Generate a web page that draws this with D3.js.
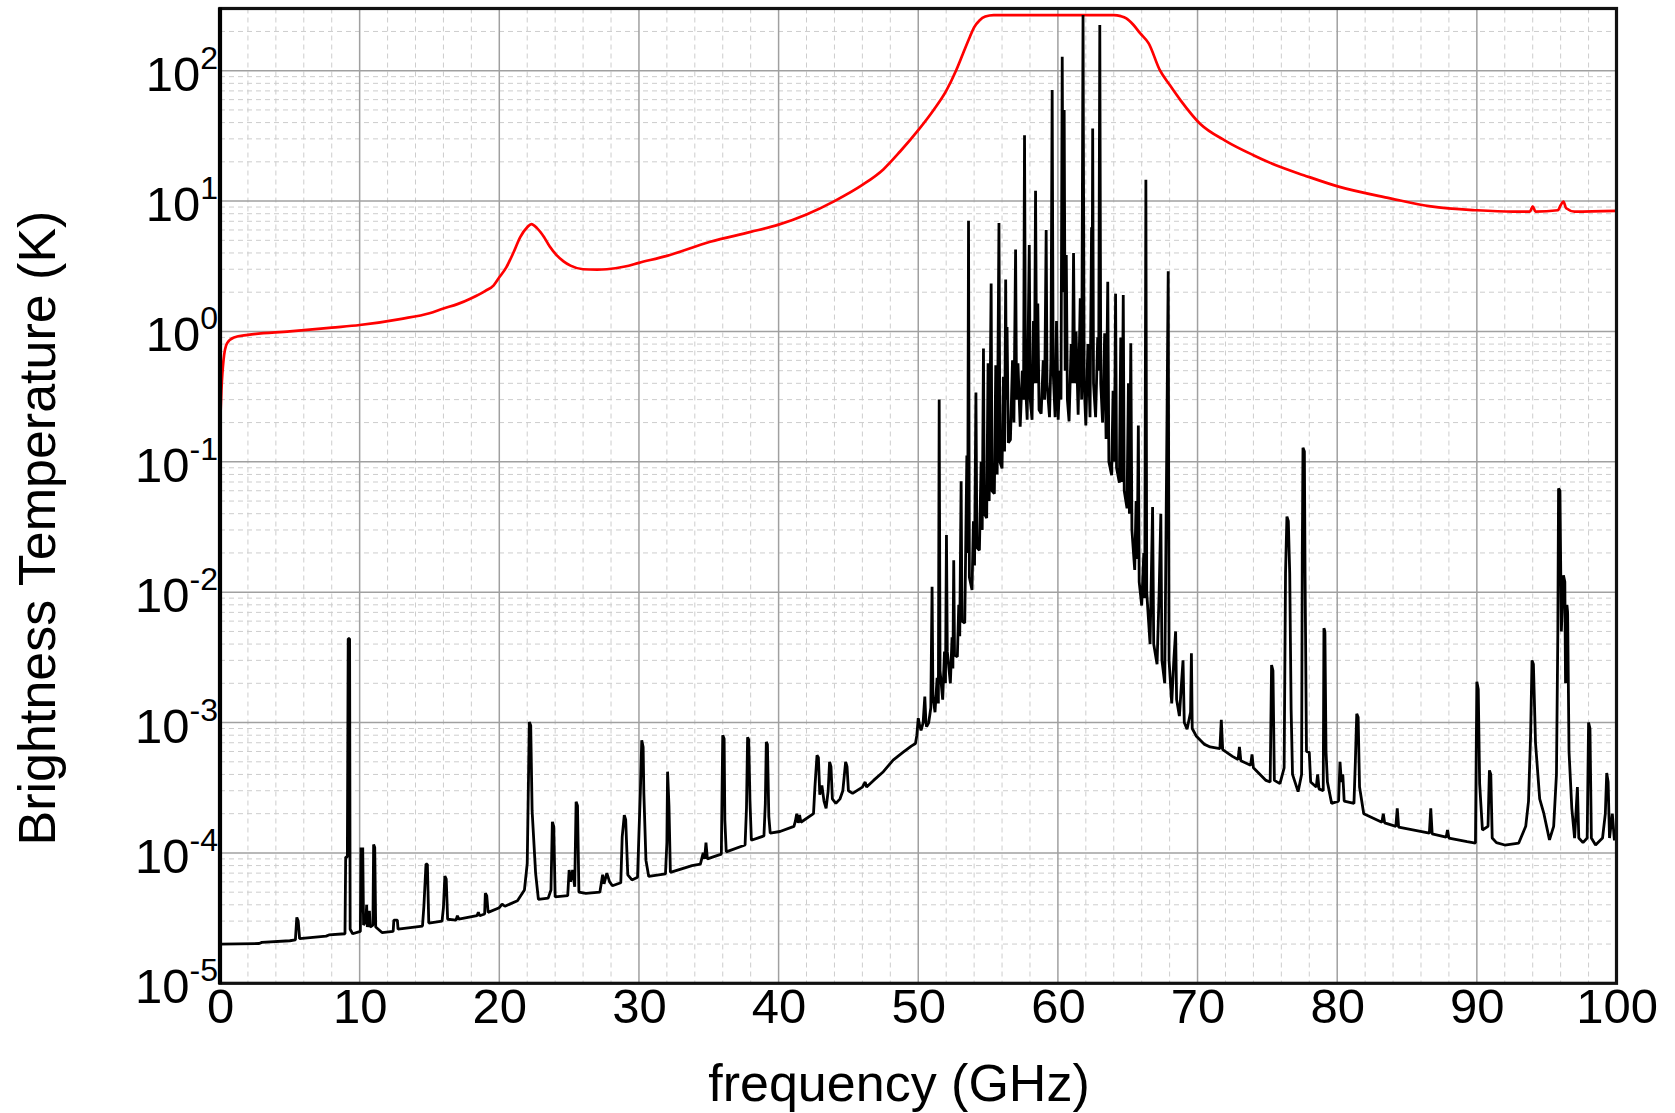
<!DOCTYPE html>
<html>
<head>
<meta charset="utf-8">
<script src="https://cdnjs.cloudflare.com/ajax/libs/d3/7.8.5/d3.min.js"></script>
<style>
body { margin: 0; background: #fff; }
svg { display: block; font-family: "Liberation Sans", Arial, sans-serif; }
</style>
</head>
<body>
<svg id="chart" width="1675" height="1113"></svg>
<script>

// tick values
var xTicks = [0, 10, 20, 30, 40, 50, 60, 70, 80, 90, 100];
var yExponents = [-5, -4, -3, -2, -1, 0, 1, 2];

// red curve: [frequency GHz, brightness temperature K]
var redSeries = [
    [0, 0.18], [0.1, 0.35], [0.25, 0.6], [0.5, 0.81], [1.0, 0.9], [2.0, 0.94], [5.0, 1.0],
    [8.0, 1.07], [10, 1.12], [13, 1.25], [15, 1.38], [16, 1.5], [17, 1.62], [18, 1.8],
    [19, 2.05], [19.6, 2.26], [20.0, 2.6], [20.5, 3.1], [21.0, 4.0], [21.5, 5.3], [22.0, 6.3],
    [22.3, 6.65], [22.7, 6.2], [23.2, 5.3], [23.6, 4.5], [24.1, 3.85], [24.6, 3.45], [25.1, 3.2],
    [26.0, 3.0], [27.0, 2.98], [27.7, 3.0], [29.0, 3.15], [30, 3.36], [32, 3.8], [35.1, 4.87],
    [38, 5.8], [40, 6.6], [42, 7.9], [44, 10], [46, 13.3], [47.5, 17.5], [48.7, 24], [50, 35],
    [51.1, 50], [52, 70], [52.7, 100], [53.2, 135], [53.7, 182], [54.0, 215], [54.4, 244],
    [54.8, 260], [55.4, 267], [64.0, 267], [64.5, 262], [64.9, 252], [65.4, 225], [65.9, 193],
    [66.5, 162], [67.3, 101], [68, 78], [68.8, 59], [70.2, 39], [72, 29], [74, 22.5],
    [75.9, 18.3], [77.6, 15.8], [80.1, 12.9], [83.8, 10.5], [86.7, 9.1], [90, 8.5], [92.6, 8.3],
    [93.8, 8.3], [94.0, 9.1], [94.2, 8.3], [95.8, 8.5], [96.0, 9.3], [96.2, 9.9], [96.4, 8.8],
    [97, 8.3], [100, 8.4]
];

// black spectrum, 0 - 50 GHz
var blackLow = [
    [0, 2.0e-5], [2.8, 2.02e-5], [3.0, 2.06e-5], [5.0, 2.12e-5], [5.4, 2.15e-5], [5.5, 3.2e-5],
    [5.6, 3.0e-5], [5.7, 2.2e-5], [7.6, 2.3e-5], [7.8, 2.35e-5], [8.95, 2.4e-5], [9.0, 9.3e-5],
    [9.12, 9.3e-5], [9.18, 4.4e-3], [9.28, 4.4e-3], [9.32, 2.6e-5], [9.5, 2.4e-5], [10.05, 2.5e-5],
    [10.1, 1.1e-4], [10.15, 3.5e-5], [10.22, 1.1e-4], [10.28, 2.8e-5], [10.45, 3.0e-5],
    [10.5, 4.0e-5], [10.55, 2.7e-5], [10.7, 3.6e-5], [10.75, 2.7e-5], [10.95, 2.8e-5],
    [11.0, 1.16e-4], [11.08, 1.1e-4], [11.15, 2.7e-5], [11.6, 2.45e-5], [12.4, 2.5e-5],
    [12.45, 3.05e-5], [12.7, 3.05e-5], [12.75, 2.6e-5], [14.5, 2.75e-5], [14.6, 3.9e-5],
    [14.75, 8.2e-5], [14.85, 8.2e-5], [14.95, 2.9e-5], [15.9, 3.0e-5], [16.0, 3.8e-5],
    [16.1, 6.65e-5], [16.2, 6.3e-5], [16.3, 3.1e-5], [16.9, 3.05e-5], [17.0, 3.3e-5],
    [17.1, 3.1e-5], [18.4, 3.3e-5], [18.5, 3.5e-5], [18.6, 3.3e-5], [18.95, 3.4e-5],
    [19.0, 4.9e-5], [19.1, 4.7e-5], [19.2, 3.5e-5], [20.0, 3.8e-5], [20.2, 4.05e-5],
    [20.4, 3.9e-5], [21.3, 4.3e-5], [21.8, 5.2e-5], [22.0, 8.3e-5], [22.15, 1.01e-3],
    [22.25, 9.5e-4], [22.35, 2.1e-4], [22.6, 7.0e-5], [22.8, 4.4e-5], [23.5, 4.5e-5],
    [23.7, 5.2e-5], [23.8, 1.73e-4], [23.9, 1.6e-4], [24.0, 4.6e-5], [24.9, 4.7e-5],
    [25.0, 7.4e-5], [25.1, 6.0e-5], [25.25, 7.4e-5], [25.4, 5.5e-5], [25.5, 2.47e-4],
    [25.6, 2.3e-4], [25.7, 5.0e-5], [26.2, 4.9e-5], [27.2, 5.0e-5], [27.4, 6.8e-5],
    [27.5, 5.8e-5], [27.7, 7.0e-5], [27.9, 6.0e-5], [28.1, 5.6e-5], [28.7, 5.9e-5],
    [28.8, 1.33e-4], [28.95, 1.95e-4], [29.05, 1.8e-4], [29.2, 6.8e-5], [29.5, 6.2e-5],
    [29.9, 6.5e-5], [30.0, 1.4e-4], [30.1, 2.9e-4], [30.2, 7.3e-4], [30.3, 6.5e-4],
    [30.35, 2.9e-4], [30.5, 8.8e-5], [30.7, 6.6e-5], [31.9, 6.9e-5], [32.0, 1.2e-4],
    [32.05, 4.2e-4], [32.15, 2.3e-4], [32.25, 7.1e-5], [33.8, 8.0e-5], [34.4, 8.2e-5],
    [34.6, 1.0e-4], [34.7, 9.0e-5], [34.8, 1.2e-4], [34.9, 9.0e-5], [35.9, 9.8e-5],
    [35.95, 2.9e-4], [36.0, 8.0e-4], [36.1, 7.5e-4], [36.15, 1.8e-4], [36.25, 1.02e-4],
    [37.6, 1.15e-4], [37.7, 2.2e-4], [37.78, 7.7e-4], [37.86, 7.4e-4], [37.95, 2.5e-4],
    [38.05, 1.25e-4], [38.95, 1.35e-4], [39.05, 2.4e-4], [39.12, 7.1e-4], [39.2, 6.8e-4],
    [39.3, 1.9e-4], [39.4, 1.42e-4], [40.1, 1.46e-4], [41.1, 1.6e-4], [41.2, 1.75e-4],
    [41.3, 2.0e-4], [41.4, 1.7e-4], [41.5, 1.95e-4], [41.6, 1.72e-4], [42.5, 2.0e-4],
    [42.6, 3.2e-4], [42.75, 5.6e-4], [42.85, 5.4e-4], [42.95, 2.8e-4], [43.1, 3.3e-4],
    [43.25, 2.5e-4], [43.4, 2.2e-4], [43.55, 3.0e-4], [43.65, 5.0e-4], [43.75, 4.6e-4],
    [43.85, 2.6e-4], [44.1, 2.4e-4], [44.4, 2.6e-4], [44.6, 3.0e-4], [44.8, 5.0e-4],
    [44.9, 4.6e-4], [45.0, 3.0e-4], [45.3, 2.86e-4], [46.0, 3.2e-4], [46.2, 3.5e-4],
    [46.3, 3.2e-4], [46.8, 3.6e-4], [47.5, 4.2e-4], [48.2, 5.15e-4], [48.9, 5.9e-4],
    [49.5, 6.6e-4], [49.8, 6.9e-4], [49.9, 8.0e-4], [50.0, 1.08e-3], [50.1, 9.5e-4],
    [50.2, 8.7e-4], [50.35, 1.0e-3], [50.47, 1.58e-3], [50.55, 1.0e-3]
];

// black spectrum, oxygen band 50 - 70 GHz
var blackBand = [
    [50.6, 9.3e-4], [50.75, 1.0e-3], [50.9, 1.3e-3], [50.99, 1.1e-2], [51.05, 1.6e-3],
    [51.2, 1.2e-3], [51.35, 2.2e-3], [51.44, 1.4e-3], [51.5, 0.3], [51.56, 2.5e-3],
    [51.75, 1.5e-3], [51.88, 3.5e-3], [51.95, 2.0e-3], [52.02, 2.75e-2], [52.08, 3.5e-3],
    [52.3, 2.0e-3], [52.42, 4.5e-3], [52.48, 2.6e-3], [52.54, 1.76e-2], [52.6, 3.3e-3],
    [52.8, 3.2e-3], [52.9, 8e-3], [52.97, 4.6e-3], [53.07, 7.1e-2], [53.13, 6e-3],
    [53.33, 5.8e-3], [53.48, 0.112], [53.54, 2e-2], [53.6, 7.05], [53.66, 1.3e-2],
    [53.85, 1.04e-2], [53.95, 3.5e-2], [54.03, 1.6e-2], [54.13, 0.34], [54.2, 2.2e-2],
    [54.38, 2.1e-2], [54.5, 0.1], [54.58, 3e-2], [54.67, 0.74], [54.73, 4e-2],
    [54.9, 3.7e-2], [55.0, 0.57], [55.08, 5e-2], [55.22, 2.33], [55.28, 6e-2],
    [55.45, 5.7e-2], [55.55, 0.55], [55.65, 8e-2], [55.78, 6.8], [55.85, 0.1],
    [56.0, 8.9e-2], [56.1, 0.45], [56.18, 0.12], [56.26, 2.5], [56.31, 0.3], [56.36, 1.08],
    [56.45, 0.14], [56.6, 0.148], [56.75, 0.6], [56.85, 0.2], [56.97, 4.25], [57.04, 0.3],
    [57.14, 0.57], [57.3, 0.186], [57.45, 0.5], [57.54, 0.3], [57.61, 32], [57.68, 0.4],
    [57.8, 0.21], [57.95, 4.6], [58.02, 0.3], [58.15, 0.21], [58.25, 1.2], [58.32, 0.4],
    [58.4, 12], [58.48, 0.4], [58.56, 1.64], [58.65, 0.25], [58.8, 0.234], [58.95, 0.6],
    [59.05, 0.3], [59.16, 6.0], [59.22, 0.4], [59.4, 0.22], [59.5, 0.6], [59.59, 71],
    [59.66, 0.5], [59.8, 0.22], [59.9, 1.2], [60.02, 0.21], [60.15, 0.5], [60.22, 0.3],
    [60.31, 128], [60.38, 2], [60.45, 50], [60.52, 0.5], [60.6, 3.85], [60.68, 0.3],
    [60.8, 0.204], [60.95, 0.8], [61.04, 0.4], [61.12, 4.0], [61.2, 0.4], [61.3, 1.0],
    [61.45, 0.23], [61.6, 1.8], [61.7, 0.3], [61.8, 267], [61.88, 0.4], [62.0, 0.19],
    [62.15, 0.8], [62.3, 0.22], [62.41, 6.3], [62.45, 1.0], [62.49, 36], [62.55, 0.4],
    [62.7, 0.22], [62.85, 0.9], [62.92, 0.5], [63.0, 224], [63.07, 0.4], [63.2, 0.2],
    [63.35, 0.97], [63.45, 0.15], [63.57, 2.4], [63.65, 0.1], [63.85, 7.9e-2], [63.95, 0.35],
    [64.05, 0.1], [64.13, 1.95], [64.2, 0.09], [64.4, 6.9e-2], [64.5, 0.9], [64.58, 0.07],
    [64.68, 1.9], [64.75, 0.06], [64.95, 4.4e-2], [65.05, 0.4], [65.12, 0.04], [65.22, 0.81],
    [65.3, 0.03], [65.5, 1.48e-2], [65.6, 0.05], [65.68, 0.018], [65.76, 0.19], [65.82, 0.012],
    [66.0, 7.9e-3], [66.15, 0.02], [66.22, 9e-3], [66.3, 14.6], [66.36, 0.01], [66.6, 4.0e-3],
    [66.7, 0.015], [66.78, 0.045], [66.86, 4e-3], [67.1, 2.8e-3], [67.25, 0.01], [67.37, 0.04],
    [67.45, 3e-3], [67.65, 2.0e-3], [67.82, 0.26], [67.9, 2.9], [67.96, 3e-3], [68.15, 1.4e-3],
    [68.3, 3e-3], [68.43, 5e-3], [68.5, 1.5e-3], [68.7, 1.12e-3], [68.85, 2e-3], [68.96, 3e-3],
    [69.05, 1.0e-3], [69.25, 8.9e-4], [69.5, 1.2e-3], [69.56, 3.4e-3], [69.62, 9e-4],
    [69.9, 7.9e-4]
];

// black spectrum, 70 - 100 GHz
var blackHigh = [
    [70.5, 6.8e-4], [70.9, 6.5e-4], [71.6, 6.3e-4], [71.7, 1.05e-3], [71.8, 6.2e-4],
    [72.5, 5.5e-4], [72.9, 5.2e-4], [73.0, 6.5e-4], [73.1, 5.1e-4], [73.8, 4.7e-4],
    [73.9, 5.7e-4], [74.0, 4.5e-4], [74.9, 3.6e-4], [75.2, 3.5e-4], [75.3, 2.76e-3],
    [75.4, 2.5e-3], [75.5, 3.6e-4], [75.9, 3.4e-4], [76.2, 4.5e-4], [76.3, 1.4e-2],
    [76.4, 3.8e-2], [76.5, 3.5e-2], [76.6, 1.4e-2], [76.7, 1.26e-3], [76.8, 4.0e-4],
    [77.2, 2.95e-4], [77.45, 4e-4], [77.5, 2.0e-2], [77.55, 0.128], [77.65, 0.12],
    [77.7, 1.3e-2], [77.8, 6e-4], [78.0, 5.9e-4], [78.1, 3.5e-4], [78.5, 3.2e-4],
    [78.6, 4.0e-4], [78.7, 3.1e-4], [79.0, 3.0e-4], [79.05, 5.3e-3], [79.12, 5.0e-3],
    [79.2, 6e-4], [79.3, 3.5e-4], [79.6, 2.4e-4], [80.1, 2.5e-4], [80.2, 5.0e-4],
    [80.3, 3.5e-4], [80.4, 4.0e-4], [80.5, 2.5e-4], [81.2, 2.4e-4], [81.3, 5e-4],
    [81.4, 1.17e-3], [81.5, 1.1e-3], [81.6, 3.2e-4], [81.9, 2.0e-4], [83.2, 1.72e-4],
    [83.3, 2.0e-4], [83.4, 1.7e-4], [84.2, 1.6e-4], [84.3, 2.2e-4], [84.4, 1.58e-4],
    [86.6, 1.42e-4], [86.7, 2.2e-4], [86.8, 1.4e-4], [87.8, 1.32e-4], [87.9, 1.5e-4],
    [88.0, 1.3e-4], [89.3, 1.22e-4], [89.9, 1.19e-4], [90.0, 2.06e-3], [90.1, 1.8e-3],
    [90.2, 3.4e-4], [90.4, 1.5e-4], [90.8, 1.6e-4], [90.9, 4.3e-4], [91.0, 4.0e-4],
    [91.1, 1.3e-4], [91.4, 1.2e-4], [92.0, 1.15e-4], [93.0, 1.19e-4], [93.5, 1.6e-4],
    [93.7, 2.5e-4], [93.85, 8e-4], [93.95, 3.0e-3], [94.05, 2.8e-3], [94.2, 7e-4],
    [94.5, 2.6e-4], [94.8, 2.0e-4], [95.2, 1.26e-4], [95.5, 1.6e-4], [95.7, 4e-4],
    [95.8, 5.0e-3], [95.85, 6.25e-2], [95.95, 6.0e-2], [96.05, 5e-3], [96.2, 1.35e-2],
    [96.3, 1.2e-2], [96.35, 2e-3], [96.45, 8e-3], [96.5, 7e-3], [96.6, 6e-4], [96.8, 2.2e-4],
    [97.0, 1.3e-4], [97.2, 3.2e-4], [97.3, 1.3e-4], [97.6, 1.2e-4], [97.9, 1.3e-4],
    [98.0, 1.0e-3], [98.1, 9e-4], [98.2, 1.3e-4], [98.5, 1.15e-4], [99.0, 1.3e-4],
    [99.2, 2.0e-4], [99.3, 4.1e-4], [99.4, 3.5e-4], [99.5, 1.3e-4], [99.7, 2.0e-4],
    [99.85, 1.25e-4], [100, 1.5e-4]
];

var svg = d3.select('#chart');

var plotLeft = 220, plotRight = 1616.5, plotTop = 8.5, plotBottom = 983.3;

var xScale = d3.scaleLinear()
    .domain([0, 100])
    .range([plotLeft, plotRight]);

var yScale = d3.scaleLog()
    .domain([1e-5, 300])
    .range([plotBottom, plotTop]);

init();

function init() {
    draw_grid();
    draw_lines();
    draw_axes();
}

function draw_grid() {
    var grid = svg.append('g').attr('class', 'grid');

    // minor grid, every 2 GHz and 2..9 in every decade
    var xMinor = d3.range(0, 101, 2).filter(function(d){ return d % 10 !== 0; });
    var yMinor = yScale.ticks().filter(function(d){
        var e = Math.log10(d);
        return Math.abs(e - Math.round(e)) > 1e-6;
    });

    grid.selectAll('line.xminor')
        .data(xMinor)
        .enter()
        .append('line')
        .attr('class', 'xminor')
        .attr('x1', function(d){ return xScale(d); })
        .attr('x2', function(d){ return xScale(d); })
        .attr('y1', plotTop)
        .attr('y2', plotBottom)
        .attr('stroke', '#cdcdcd')
        .attr('stroke-width', 1)
        .attr('stroke-dasharray', '5,4');

    grid.selectAll('line.yminor')
        .data(yMinor)
        .enter()
        .append('line')
        .attr('class', 'yminor')
        .attr('x1', plotLeft)
        .attr('x2', plotRight)
        .attr('y1', function(d){ return yScale(d); })
        .attr('y2', function(d){ return yScale(d); })
        .attr('stroke', '#cdcdcd')
        .attr('stroke-width', 1)
        .attr('stroke-dasharray', '5,4');

    // major grid
    grid.selectAll('line.xmajor')
        .data(xTicks)
        .enter()
        .append('line')
        .attr('class', 'xmajor')
        .attr('x1', function(d){ return xScale(d); })
        .attr('x2', function(d){ return xScale(d); })
        .attr('y1', plotTop)
        .attr('y2', plotBottom)
        .attr('stroke', '#a0a0a0')
        .attr('stroke-width', 1.5);

    grid.selectAll('line.ymajor')
        .data(yExponents)
        .enter()
        .append('line')
        .attr('class', 'ymajor')
        .attr('x1', plotLeft)
        .attr('x2', plotRight)
        .attr('y1', function(d){ return yScale(Math.pow(10, d)); })
        .attr('y2', function(d){ return yScale(Math.pow(10, d)); })
        .attr('stroke', '#a0a0a0')
        .attr('stroke-width', 1.5);
}

function draw_lines() {
    svg.append('clipPath')
        .attr('id', 'plotclip')
        .append('rect')
        .attr('x', plotLeft)
        .attr('y', plotTop)
        .attr('width', plotRight - plotLeft)
        .attr('height', plotBottom - plotTop);

    var line = d3.line()
        .x(function(d){ return xScale(d[0]); })
        .y(function(d){ return yScale(d[1]); });

    // smooth curve for the red model line
    var smoothLine = d3.line()
        .curve(d3.curveMonotoneX)
        .x(function(d){ return xScale(d[0]); })
        .y(function(d){ return yScale(d[1]); });

    var g = svg.append('g').attr('clip-path', 'url(#plotclip)');

    g.append('path')
        .datum(redSeries)
        .attr('d', smoothLine)
        .attr('fill', 'none')
        .attr('stroke', '#ff0000')
        .attr('stroke-width', 2.7)
        .attr('stroke-linejoin', 'round');

    var blackSeries = blackLow.concat(blackBand, blackHigh);

    g.append('path')
        .datum(blackSeries)
        .attr('d', line)
        .attr('fill', 'none')
        .attr('stroke', '#000')
        .attr('stroke-width', 2.8)
        .attr('stroke-linejoin', 'bevel');
}

function draw_axes() {
    // frame
    svg.append('rect')
        .attr('x', plotLeft)
        .attr('y', plotTop)
        .attr('width', plotRight - plotLeft)
        .attr('height', plotBottom - plotTop)
        .attr('fill', 'none')
        .attr('stroke', '#111')
        .attr('stroke-width', 3.2);

    svg.append('line')
        .attr('x1', plotLeft).attr('x2', plotLeft)
        .attr('y1', plotTop - 1).attr('y2', plotBottom + 1)
        .attr('stroke', '#000')
        .attr('stroke-width', 4.2);

    // x axis labels
    var xAxis = d3.axisBottom(xScale)
        .tickValues(xTicks)
        .tickSize(0)
        .tickPadding(5)
        .tickFormat(d3.format('d'));

    var gx = svg.append('g')
        .attr('transform', 'translate(0,' + plotBottom + ')')
        .call(xAxis);
    gx.select('.domain').remove();
    gx.selectAll('text')
        .attr('font-size', 49)
        .attr('font-family', '"Liberation Sans", Arial, sans-serif')
        .attr('fill', '#000');

    // y axis labels, 10 with superscript exponent
    var ylab = svg.append('g')
        .selectAll('text')
        .data(yExponents)
        .enter()
        .append('text')
        .attr('x', plotLeft - 2)
        .attr('y', function(d){ return yScale(Math.pow(10, d)) + 20; })
        .attr('text-anchor', 'end')
        .attr('font-size', 49)
        .attr('fill', '#000');
    ylab.append('tspan').text('10');
    ylab.append('tspan')
        .attr('dy', -22)
        .attr('font-size', 32)
        .text(function(d){ return d; });

    // titles
    svg.append('text')
        .attr('transform', 'translate(55,528) rotate(-90)')
        .attr('text-anchor', 'middle')
        .attr('font-size', 52)
        .attr('fill', '#000')
        .text('Brightness Temperature (K)');

    svg.append('text')
        .attr('x', 899)
        .attr('y', 1101)
        .attr('text-anchor', 'middle')
        .attr('font-size', 52)
        .attr('fill', '#000')
        .text('frequency (GHz)');
}
</script>
</body>
</html>
